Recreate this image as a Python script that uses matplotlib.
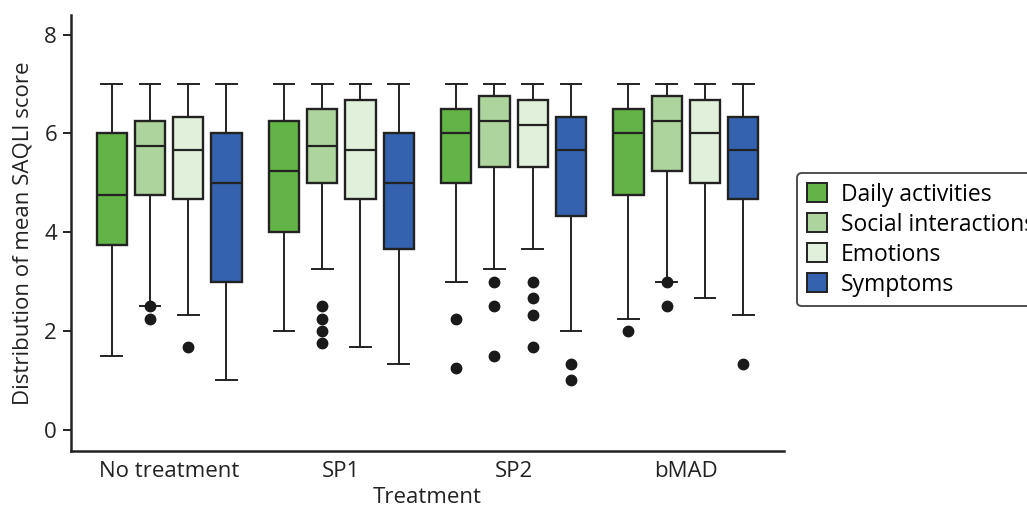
import matplotlib
matplotlib.use("Agg")
import matplotlib.pyplot as plt
from matplotlib.patches import Patch

plt.rcParams['font.family'] = ['Open Sans', 'DejaVu Sans']

treatments = ["No treatment", "SP1", "SP2", "bMAD"]
domains = ["Daily activities", "Social interactions", "Emotions", "Symptoms"]
colors = ["#63b446", "#acd49c", "#e0f0da", "#3462ae"]

# per domain, one value per treatment
whislo = {
    "Daily activities": [1.5, 2.0, 3.0, 2.25],
    "Social interactions": [2.5, 3.25, 3.25, 3.0],
    "Emotions": [2.33, 1.67, 3.67, 2.67],
    "Symptoms": [1.0, 1.33, 2.0, 2.33],
}
q1 = {
    "Daily activities": [3.75, 4.0, 5.0, 4.75],
    "Social interactions": [4.75, 5.0, 5.33, 5.25],
    "Emotions": [4.67, 4.67, 5.33, 5.0],
    "Symptoms": [3.0, 3.67, 4.33, 4.67],
}
med = {
    "Daily activities": [4.75, 5.25, 6.0, 6.0],
    "Social interactions": [5.75, 5.75, 6.25, 6.25],
    "Emotions": [5.67, 5.67, 6.17, 6.0],
    "Symptoms": [5.0, 5.0, 5.67, 5.67],
}
q3 = {
    "Daily activities": [6.0, 6.25, 6.5, 6.5],
    "Social interactions": [6.25, 6.5, 6.75, 6.75],
    "Emotions": [6.33, 6.67, 6.67, 6.67],
    "Symptoms": [6.0, 6.0, 6.33, 6.33],
}
whishi = {
    "Daily activities": [7, 7, 7, 7],
    "Social interactions": [7, 7, 7, 7],
    "Emotions": [7, 7, 7, 7],
    "Symptoms": [7, 7, 7, 7],
}
fliers = {
    "Daily activities": [[], [], [2.25, 1.25], [2.0]],
    "Social interactions": [[2.5, 2.25], [2.5, 2.25, 2.0, 1.75], [3.0, 2.5, 1.5], [3.0, 2.5]],
    "Emotions": [[1.67], [], [3.0, 2.67, 2.33, 1.67], []],
    "Symptoms": [[], [], [1.33, 1.0], [1.33]],
}

fig = plt.figure(figsize=(10.27, 5.09), dpi=100)
ax = fig.add_axes([0.0691, 0.114, 0.6943, 0.8566])

offset = 0.222
for j, dom in enumerate(domains):
    stats = []
    for i in range(len(treatments)):
        stats.append(dict(whislo=whislo[dom][i], q1=q1[dom][i], med=med[dom][i],
                          q3=q3[dom][i], whishi=whishi[dom][i], fliers=fliers[dom][i]))
    pos = [i + (j - 1.5) * offset for i in range(len(treatments))]
    ax.bxp(stats, positions=pos, widths=0.175, patch_artist=True,
           boxprops=dict(facecolor=colors[j], edgecolor="#222222", linewidth=1.7),
           medianprops=dict(color="#222222", linewidth=1.6),
           whiskerprops=dict(color="#222222", linewidth=1.4),
           capprops=dict(color="#222222", linewidth=1.4),
           capwidths=0.12,
           flierprops=dict(marker="o", markerfacecolor="#1a1a1a",
                           markeredgecolor="#1a1a1a", markersize=7.5),
           manage_ticks=False)

fs = 16
ax.set_xlim(-0.57, 3.57)
ax.set_ylim(-0.43, 8.4)
ax.set_yticks([0, 2, 4, 6, 8])
ax.set_xticks(range(len(treatments)))
ax.set_xticklabels(treatments)
ax.tick_params(axis="x", length=0, labelsize=fs, pad=7, colors="#222222")
ax.tick_params(axis="y", length=6, width=1.4, labelsize=fs, pad=4, colors="#222222")
ax.spines["top"].set_visible(False)
ax.spines["right"].set_visible(False)
for s in ("left", "bottom"):
    ax.spines[s].set_linewidth(1.8)
    ax.spines[s].set_color("#222222")
ax.set_xlabel("Treatment", fontsize=fs, labelpad=4, color="#222222")
ax.set_ylabel("Distribution of mean SAQLI score", fontsize=fs, labelpad=8, color="#222222")

# legend runs past the right edge of the figure
handles = [Patch(facecolor=c, edgecolor="#222222", linewidth=1.4) for c in colors]
fig.legend(handles, domains, loc="upper left", bbox_to_anchor=(797 / 1027, 1 - 173 / 509),
           fontsize=16.5, frameon=True, edgecolor="#222222", fancybox=True,
           handlelength=0.9, handleheight=0.9, handletextpad=0.6, labelspacing=0.26,
           borderpad=0.42, borderaxespad=0)
fig.legends[0].get_frame().set_linewidth(1.4)

fig.savefig("out.png", dpi=100)
